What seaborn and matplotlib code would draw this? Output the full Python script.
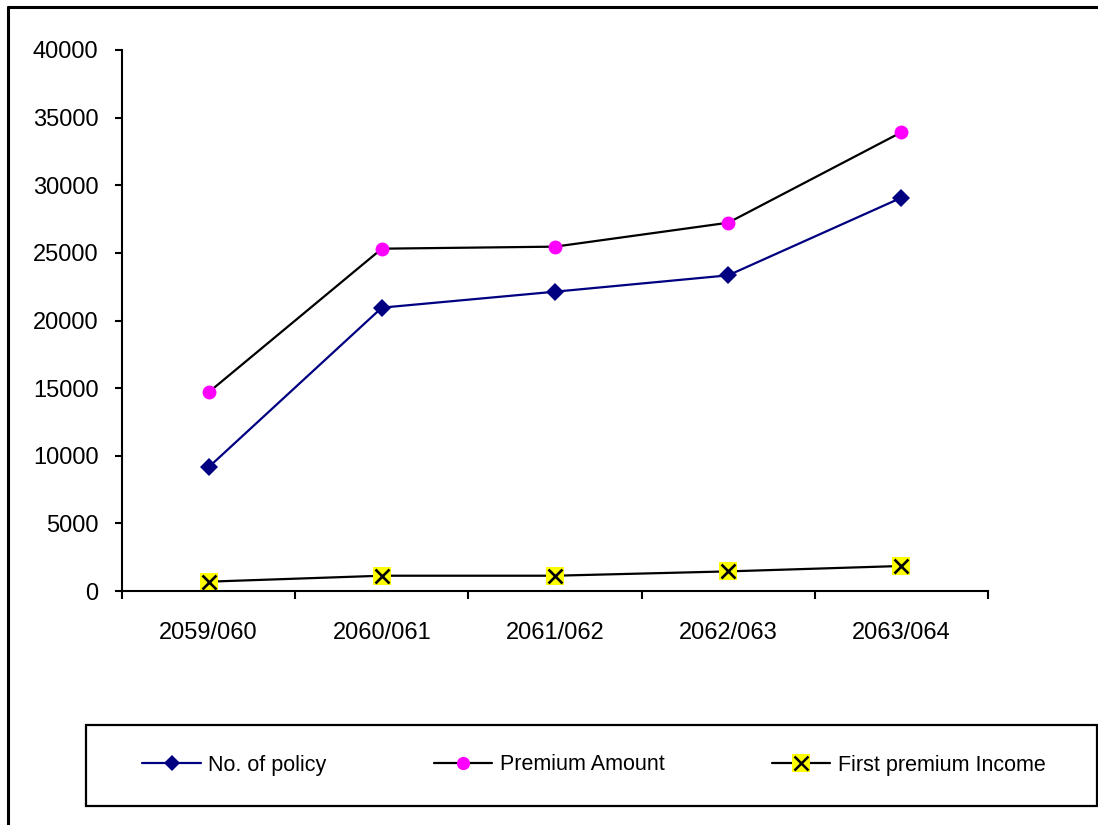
import matplotlib
matplotlib.use("Agg")
import matplotlib.pyplot as plt
import seaborn as sns
import pandas as pd
from matplotlib.lines import Line2D
from matplotlib.patches import Rectangle
from matplotlib.legend_handler import HandlerTuple

# Fiscal years (Nepali calendar) and the three tracked series
years = ["2059/060", "2060/061", "2061/062", "2062/063", "2063/064"]
no_of_policy = [9150, 20950, 22130, 23340, 29080]
premium_amount = [14690, 25310, 25460, 27230, 33920]
first_premium_income = [690, 1130, 1130, 1450, 1850]

y_ticks = [0, 5000, 10000, 15000, 20000, 25000, 30000, 35000, 40000]

sns.set_theme(style="white")
plt.rcParams["font.family"] = ["Liberation Sans", "DejaVu Sans"]
plt.rcParams["text.color"] = "black"
plt.rcParams["xtick.color"] = "black"
plt.rcParams["ytick.color"] = "black"
plt.rcParams["xtick.labelcolor"] = "black"
plt.rcParams["ytick.labelcolor"] = "black"

df = pd.DataFrame({
    "year": years,
    "No. of policy": no_of_policy,
    "Premium Amount": premium_amount,
    "First premium Income": first_premium_income,
})
df["pos"] = range(len(years))

fig = plt.figure(figsize=(10.98, 8.25), dpi=100)
ax = fig.add_axes([122 / 1098, 1 - 591 / 825, (988 - 122) / 1098, (591 - 50) / 825])

navy = "#000080"
magenta = "#FF00FF"
yellow = "#FFFF00"

sns.lineplot(data=df, x="pos", y="No. of policy", ax=ax, color=navy, lw=1.6,
             marker="D", markersize=9.5, markeredgewidth=0, markerfacecolor=navy)
sns.lineplot(data=df, x="pos", y="Premium Amount", ax=ax, color="black", lw=1.6,
             marker="o", markersize=10, markeredgewidth=0, markerfacecolor=magenta)
sns.lineplot(data=df, x="pos", y="First premium Income", ax=ax, color="black", lw=1.6,
             marker="s", markersize=13.5, markeredgewidth=0, markerfacecolor=yellow)
ax.plot(df["pos"], df["First premium Income"], ls="none", marker="x",
        markersize=10, markeredgewidth=1.9, color="black", zorder=5)

ax.set_xlim(-0.5, len(years) - 0.5)
ax.set_ylim(0, 40000)
ax.set_yticks(y_ticks)
ax.set_yticklabels([str(v) for v in y_ticks])

# Category labels at centres, tick marks on the boundaries between categories
ax.set_xticks([i - 0.5 for i in range(len(years) + 1)])
ax.set_xticklabels([])
ax.set_xticks(list(range(len(years))), minor=True)
ax.set_xticklabels(years, minor=True)
ax.tick_params(axis="x", which="major", direction="out", length=6, width=1.5, color="black", bottom=True)
ax.tick_params(axis="x", which="minor", length=0, pad=22, labelsize=17, labelcolor="black")
ax.tick_params(axis="y", direction="out", length=5, width=1.5, color="black", left=True,
               pad=12, labelsize=17, labelcolor="black")
ax.set_xlabel("")
ax.set_ylabel("")
ax.grid(False)

for side in ["top", "right"]:
    ax.spines[side].set_visible(False)
for side in ["left", "bottom"]:
    ax.spines[side].set_color("black")
    ax.spines[side].set_linewidth(1.5)

# Legend handles: line with marker
h1 = Line2D([], [], color=navy, lw=1.6, marker="D", markersize=8.5, markeredgewidth=0,
            markerfacecolor=navy)
h2 = Line2D([], [], color="black", lw=1.6, marker="o", markersize=9.5, markeredgewidth=0,
            markerfacecolor=magenta)
h3a = Line2D([], [], color="black", lw=1.6, marker="s", markersize=13, markeredgewidth=0,
             markerfacecolor=yellow)
h3b = Line2D([], [], ls="none", marker="x", markersize=9.5, markeredgewidth=1.8, color="black")

fig.legend([h1, h2, (h3a, h3b)], ["No. of policy", "Premium Amount", "First premium Income"],
           handler_map={tuple: HandlerTuple(ndivide=1)},
           loc="center", bbox_to_anchor=(594 / 1098, 1 - 765 / 825), ncol=3,
           frameon=False, fontsize=15.5, handlelength=2.7, handletextpad=0.35,
           columnspacing=5.0, labelcolor="black")

# Legend box
fig.add_artist(Rectangle((86 / 1098, 1 - 806 / 825), (1097 - 86) / 1098, (806 - 725) / 825,
                         transform=fig.transFigure, fill=False, edgecolor="black", lw=1.6))

# Outer chart border (top and left edges visible)
fig.add_artist(Line2D([8 / 1098, 1.0], [1 - 7 / 825, 1 - 7 / 825], transform=fig.transFigure,
                      color="black", lw=2.2))
fig.add_artist(Line2D([8 / 1098, 8 / 1098], [0.0, 1 - 7 / 825], transform=fig.transFigure,
                      color="black", lw=2.2))

fig.savefig("out.png", dpi=100, facecolor="white")
